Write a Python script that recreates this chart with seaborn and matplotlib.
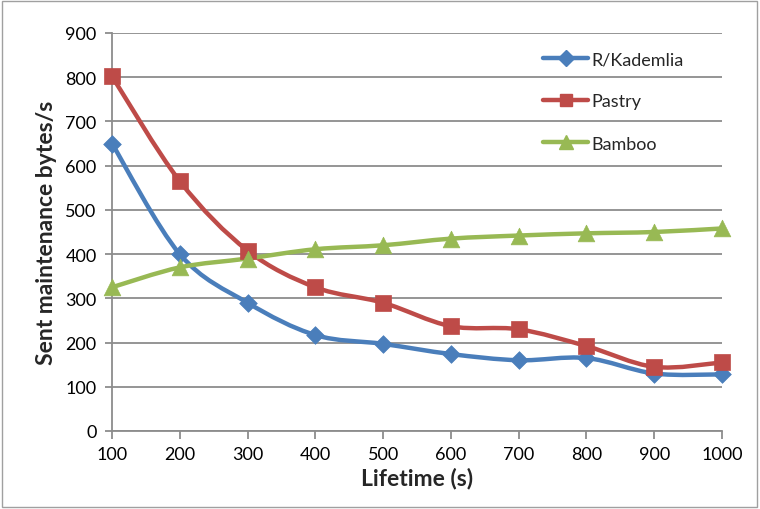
import numpy as np
import pandas as pd
import matplotlib
matplotlib.use("Agg")
import matplotlib.pyplot as plt
import seaborn as sns
from matplotlib.path import Path
from matplotlib.patches import PathPatch, Rectangle
from matplotlib.lines import Line2D

lifetime = [100, 200, 300, 400, 500, 600, 700, 800, 900, 1000]
kademlia = [650, 400, 290, 217, 197, 174, 160, 165, 130, 128]
pastry = [802, 565, 408, 325, 290, 237, 230, 192, 145, 155]
bamboo = [325, 370, 390, 411, 420, 435, 442, 447, 450, 458]
series_names = ["R/Kademlia", "Pastry", "Bamboo"]
y_ticks = [0, 100, 200, 300, 400, 500, 600, 700, 800, 900]

colors = ["#4A7EBB", "#BE4B48", "#98B954"]
markers = ["D", "s", "^"]
msizes = [9, 11, 12]

sns.set_theme(style="white")
plt.rcParams["font.family"] = ["Lato", "DejaVu Sans"]

df = pd.DataFrame({"Lifetime": lifetime * 3,
                   "value": kademlia + pastry + bamboo,
                   "series": sum([[n] * len(lifetime) for n in series_names], [])})

fig = plt.figure(figsize=(7.6, 5.1), dpi=100)
ax = fig.add_axes([112 / 760, 1 - 432 / 510, (722 - 112) / 760, (432 - 34) / 510])

def smooth_path(x, y):
    pts = np.column_stack([x, y]).astype(float)
    n = len(pts)
    verts = [pts[0]]
    codes = [Path.MOVETO]
    for i in range(n - 1):
        p0 = pts[i - 1] if i > 0 else pts[i]
        p1 = pts[i]
        p2 = pts[i + 1]
        p3 = pts[i + 2] if i + 2 < n else pts[i + 1]
        c1 = p1 + (p2 - p0) / 6.0
        c2 = p2 - (p3 - p1) / 6.0
        verts += [c1, c2, p2]
        codes += [Path.CURVE4] * 3
    return Path(verts, codes)

handles = []
for name, c, m, ms in zip(series_names, colors, markers, msizes):
    sub = df[df["series"] == name]
    patch = PathPatch(smooth_path(sub["Lifetime"].values, sub["value"].values),
                      facecolor="none", edgecolor=c, lw=3.2, capstyle="round",
                      joinstyle="round", zorder=3, clip_on=False)
    ax.add_patch(patch)
    sns.scatterplot(data=sub, x="Lifetime", y="value", ax=ax, marker=m,
                    s=ms ** 2, color=c, edgecolor=c, linewidth=0.5,
                    legend=False, zorder=4, clip_on=False)
    handles.append(Line2D([0], [0], color=c, lw=3.2, marker=m, markersize=ms * 0.85,
                          markeredgecolor=c))

ax.set_xlim(100, 1000)
ax.set_ylim(0, 900)
ax.set_xticks(lifetime)
ax.set_xticklabels([str(v) for v in lifetime])
ax.set_yticks(y_ticks)
ax.yaxis.grid(True, color="#8C8C8C", lw=1.3)
ax.xaxis.grid(False)
for s in ["top", "right"]:
    ax.spines[s].set_visible(False)
for s in ["left", "bottom"]:
    ax.spines[s].set_color("#8C8C8C")
    ax.spines[s].set_linewidth(1.3)
ax.tick_params(axis="x", direction="out", length=6, width=1.3, color="#8C8C8C",
               labelsize=13, pad=5, labelcolor="black")
ax.tick_params(axis="y", direction="out", length=5, width=1.3, color="#8C8C8C",
               labelsize=13, pad=6, labelcolor="black")
ax.tick_params(bottom=True, left=True)
ax.set_xlabel("Lifetime (s)", fontsize=16.5, fontweight="bold", labelpad=3)
ax.set_ylabel("Sent maintenance bytes/s", fontsize=16.5, fontweight="bold", labelpad=6)

leg = ax.legend(handles, series_names, loc="upper left", bbox_to_anchor=(0.68, 0.995),
                frameon=False, fontsize=13, handlelength=2.5, handletextpad=0.15,
                labelspacing=1.45)

fig.patches.append(Rectangle((0.002, 0.004), 0.994, 0.992, transform=fig.transFigure,
                             fill=False, edgecolor="#A0A0A0", lw=1))

fig.savefig("out.png", dpi=100)
